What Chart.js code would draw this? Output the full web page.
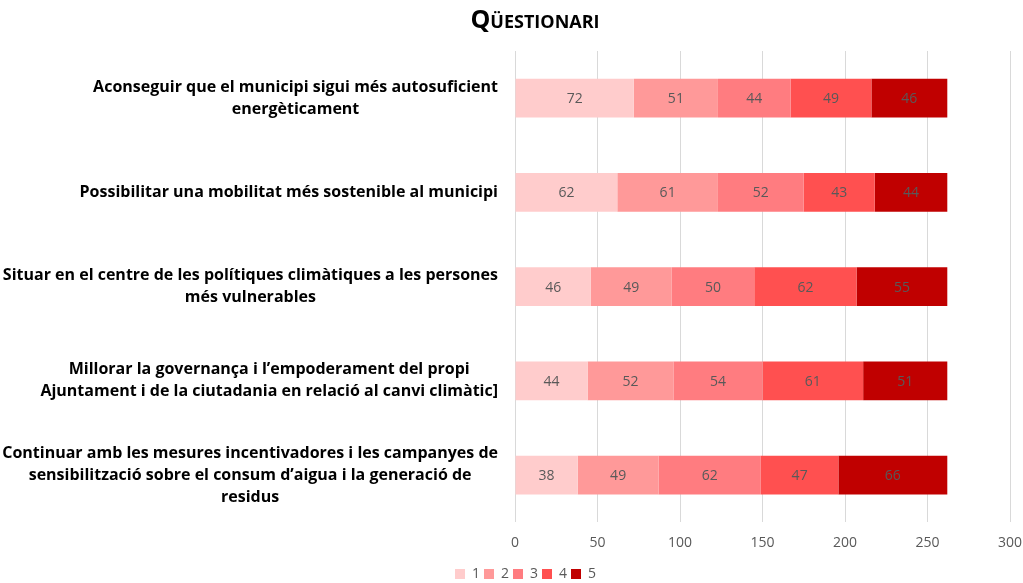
<!DOCTYPE html>
<html>
<head>
<meta charset="utf-8">
<script src="https://cdn.jsdelivr.net/npm/chart.js@4/dist/chart.umd.min.js"></script>
<style>
  html, body { margin: 0; padding: 0; background: #fff; }
  #wrap { width: 1023px; height: 583px; position: relative; }
</style>
</head>
<body>
<div id="wrap"><canvas id="questionari"></canvas></div>
<script>
// data
const categories = [
  ["Aconseguir que el municipi sigui més autosuficient", "energèticament"],
  ["Possibilitar una mobilitat més sostenible al municipi"],
  ["Situar en el centre de les polítiques climàtiques a les persones", "més vulnerables"],
  ["Millorar la governança i l’empoderament del propi", "Ajuntament i de la ciutadania en relació al canvi climàtic]"],
  ["Continuar amb les mesures incentivadores i les campanyes de", "sensibilització sobre el consum d’aigua i la generació de", "residus"]
];
const seriesNames = ["1", "2", "3", "4", "5"];
const score1 = [72, 62, 46, 44, 38];
const score2 = [51, 61, 49, 52, 49];
const score3 = [44, 52, 50, 54, 62];
const score4 = [49, 43, 62, 61, 47];
const score5 = [46, 44, 55, 51, 66];
const xTicks = [0, 50, 100, 150, 200, 250, 300];

const colors = ["#FFCCCC", "#FF9999", "#FF7C80", "#FF5050", "#C00000"];
const allSeries = [score1, score2, score3, score4, score5];

// title drawn in small caps
const titlePlugin = {
  id: "smallCapsTitle",
  afterDraw(chart) {
    const ctx = chart.ctx;
    ctx.save();
    ctx.font = "bold 25px 'Open Sans', sans-serif";
    ctx.fontVariantCaps = "small-caps";
    ctx.fillStyle = "#000";
    ctx.textAlign = "center";
    ctx.textBaseline = "middle";
    ctx.fillText("Qüestionari", 535, 21);
    ctx.restore();
  }
};

// category labels: each block right aligned, its lines centred inside the block (like Excel)
const categoryLabels = {
  id: "categoryLabels",
  afterDraw(chart) {
    const ctx = chart.ctx;
    const y = chart.scales.y;
    const right = y.right - 17;
    const lh = 22;
    ctx.save();
    ctx.font = "bold 16px 'Open Sans', sans-serif";
    ctx.fillStyle = "#000";
    ctx.textAlign = "center";
    ctx.textBaseline = "middle";
    chart.data.labels.forEach((lines, i) => {
      const widest = Math.max(...lines.map(l => ctx.measureText(l).width));
      const cx = right - widest / 2;
      const cy = y.getPixelForValue(i);
      lines.forEach((l, k) => {
        ctx.fillText(l, cx, cy + (k - (lines.length - 1) / 2) * lh);
      });
    });
    ctx.restore();
  }
};

// value labels in the middle of each segment
const valueLabels = {
  id: "valueLabels",
  afterDatasetsDraw(chart) {
    const ctx = chart.ctx;
    ctx.save();
    ctx.font = "14px 'Open Sans', sans-serif";
    ctx.fillStyle = "#595959";
    ctx.textAlign = "center";
    ctx.textBaseline = "middle";
    chart.data.datasets.forEach((ds, i) => {
      chart.getDatasetMeta(i).data.forEach((bar, j) => {
        const c = bar.getCenterPoint();
        ctx.fillText(ds.data[j], c.x, c.y + 1);
      });
    });
    ctx.restore();
  }
};

// nudge the legend a bit to the right, under the plot like in the original
const legendShift = {
  id: "legendShift",
  afterLayout(chart) {
    chart.legend.left += 14;
    chart.legend.right += 14;
  }
};

new Chart(document.getElementById("questionari"), {
  type: "bar",
  data: {
    labels: categories,
    datasets: allSeries.map((d, i) => ({
      label: seriesNames[i],
      data: d,
      backgroundColor: colors[i],
      barPercentage: 0.41,
      categoryPercentage: 1
    }))
  },
  options: {
    indexAxis: "y",
    responsive: true,
    maintainAspectRatio: false,
    animation: false,
    layout: { padding: { top: 51, right: 0, left: 0, bottom: -8 } },
    scales: {
      x: {
        stacked: true,
        min: 0,
        max: 300,
        afterBuildTicks: (s) => { s.ticks = xTicks.map(v => ({ value: v })); },
        afterFit: (s) => { s.paddingRight = 13; s.paddingLeft = 0; },
        grid: { color: "#D9D9D9", drawTicks: false },
        border: { display: false },
        ticks: { color: "#595959", font: { size: 14, family: "'Open Sans', sans-serif" }, padding: 12 }
      },
      y: {
        stacked: true,
        afterFit: (s) => { s.width = 515; },
        grid: { display: false, drawTicks: false },
        border: { display: false },
        ticks: { display: false }
      }
    },
    plugins: {
      title: { display: false },
      tooltip: { enabled: false },
      legend: {
        position: "bottom",
        labels: {
          boxWidth: 10,
          boxHeight: 10,
          padding: 4,
          color: "#595959",
          font: { size: 14, family: "'Open Sans', sans-serif" }
        }
      }
    }
  },
  plugins: [titlePlugin, categoryLabels, valueLabels, legendShift]
});
</script>
</body>
</html>
